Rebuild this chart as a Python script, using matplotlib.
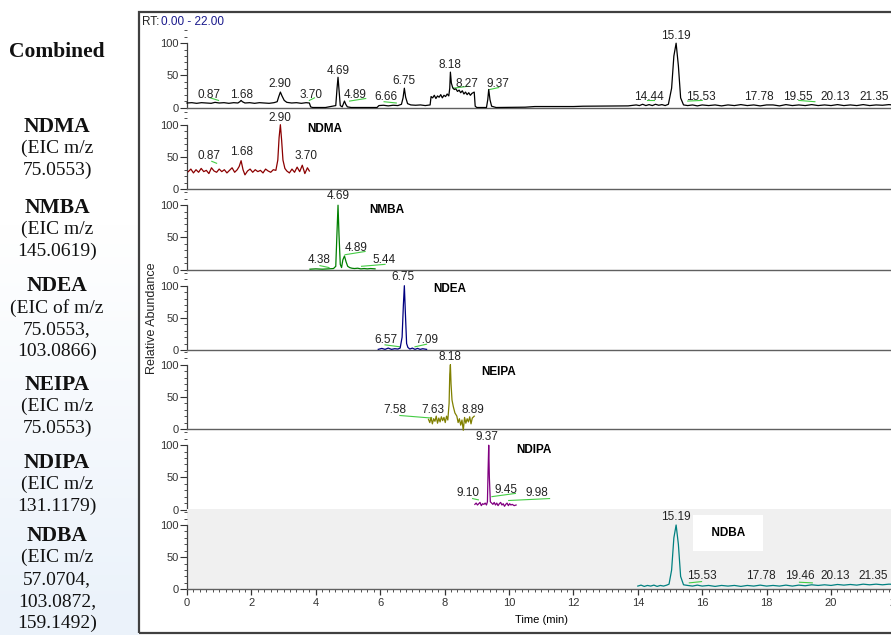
import numpy as np
import matplotlib
matplotlib.use("Agg")
import matplotlib.pyplot as plt
from matplotlib.patches import Rectangle
from matplotlib.ticker import MultipleLocator

plt.rcParams['font.family'] = ['Liberation Sans', 'DejaVu Sans']

# ---------------- DATA ----------------
panel_names = ["Combined", "NDMA", "NMBA", "NDEA", "NEIPA", "NDIPA", "NDBA"]
panel_desc = [
    [],
    ["(EIC m/z", "75.0553)"],
    ["(EIC m/z", "145.0619)"],
    ["(EIC of m/z", "75.0553,", "103.0866)"],
    ["(EIC m/z", "75.0553)"],
    ["(EIC m/z", "131.1179)"],
    ["(EIC m/z", "57.0704,", "103.0872,", "159.1492)"],
]

comb_t = [0.00, 0.15, 0.30, 0.45, 0.60, 0.75, 0.87, 1.00, 1.15, 1.30, 1.45, 1.58, 1.64, 1.68, 1.72, 1.80,
          1.95, 2.10, 2.25, 2.40, 2.55, 2.70, 2.80, 2.85, 2.90, 2.95, 3.02, 3.10, 3.25, 3.40, 3.55, 3.70,
          3.80, 3.84, 3.90, 4.30, 4.62, 4.66, 4.69, 4.72, 4.76, 4.82, 4.86, 4.89, 4.93, 4.98, 5.10, 5.90,
          5.96, 6.10, 6.25, 6.40, 6.55, 6.66, 6.71, 6.75, 6.79, 6.85, 6.95, 7.10, 7.25, 7.40, 7.55, 7.58,
          7.63, 7.68, 7.73, 7.78, 7.83, 7.88, 7.93, 7.98, 8.03, 8.08, 8.13, 8.16, 8.18, 8.21, 8.25, 8.30,
          8.35, 8.40, 8.45, 8.50, 8.55, 8.60, 8.65, 8.70, 8.75, 8.80, 8.85, 8.92, 8.95, 9.00, 9.30, 9.34,
          9.37, 9.41, 9.46, 9.60, 10.50, 10.80, 12.00, 12.30, 13.70, 13.95, 14.05, 14.15, 14.25, 14.35,
          14.45, 14.55, 14.65, 14.75, 14.85, 14.95, 15.05, 15.12, 15.19, 15.26, 15.33, 15.42, 15.55,
          15.70, 15.85, 16.00, 16.20, 16.40, 16.60, 16.80, 17.00, 17.20, 17.40, 17.60, 17.80, 18.00,
          18.20, 18.40, 18.60, 18.80, 19.00, 19.20, 19.40, 19.60, 19.80, 20.00, 20.20, 20.40, 20.60,
          20.80, 21.00, 21.20, 21.40, 21.60, 21.80, 22.00]
comb_v = [7, 7.5, 6.5, 7.5, 7, 6.5, 8, 7, 7.5, 6.5, 7.5, 7, 9, 11, 9, 7,
          7.5, 6.5, 7.5, 7, 6.5, 7.5, 9, 17, 24, 18, 11, 8, 7, 7.5, 6.5, 7.5,
          7, 1, 0, 0, 3, 30, 47, 28, 3, 1, 6, 10, 5, 1, 0, 0,
          3, 3.5, 2.5, 3.5, 3, 5, 15, 30, 16, 6, 4, 3.5, 4, 3, 4, 17,
          15, 19, 14, 18, 16, 20, 15, 19, 17, 21, 18, 30, 55, 38, 31, 28,
          29, 25, 27, 23, 26, 21, 24, 20, 23, 19, 22, 24, 2, 0, 0, 12,
          28, 12, 2, 0, 0.5, 1.5, 1.5, 2, 2.5, 4, 3, 5, 3, 4.5,
          3, 5, 3.5, 4.5, 3, 5, 30, 80, 100, 65, 15, 4, 3,
          4, 2.5, 4, 3, 4, 2.5, 4, 3, 4.5, 3, 4, 2.5, 4,
          4, 2.5, 4.5, 3, 4, 3, 4.5, 3, 4, 3, 4.5, 3, 4,
          3, 4.5, 3, 4, 3.5, 4.5, 3.5]

ndma_t = [0.04, 0.12, 0.20, 0.28, 0.36, 0.44, 0.52, 0.60, 0.68, 0.76, 0.84, 0.92, 1.00, 1.08, 1.16, 1.24,
          1.32, 1.40, 1.48, 1.56, 1.62, 1.68, 1.74, 1.80, 1.88, 1.96, 2.04, 2.12, 2.20, 2.28, 2.36, 2.44,
          2.52, 2.60, 2.68, 2.76, 2.82, 2.86, 2.90, 2.94, 2.98, 3.04, 3.10, 3.18, 3.26, 3.34, 3.42, 3.50,
          3.58, 3.66, 3.74, 3.80]
ndma_v = [27, 31, 25, 30, 26, 32, 27, 29, 24, 33, 28, 26, 31, 27, 30, 25,
          29, 33, 26, 30, 35, 44, 30, 22, 28, 31, 26, 30, 27, 29, 25, 31,
          28, 26, 30, 29, 45, 80, 100, 75, 45, 32, 28, 25, 31, 26, 34, 27,
          37, 24, 33, 28]

nmba_t = [3.82, 4.00, 4.20, 4.40, 4.55, 4.62, 4.66, 4.69, 4.72, 4.76, 4.80, 4.84, 4.89, 4.94, 4.99,
          5.05, 5.12, 5.20, 5.30, 5.40, 5.50, 5.60, 5.70, 5.84]
nmba_v = [0.5, 1, 0.5, 1, 1.5, 5, 60, 100, 55, 8, 3, 15, 21, 12, 5,
          3, 2, 1.5, 2, 1, 1.5, 1, 1.5, 1]

ndea_t = [5.94, 6.05, 6.15, 6.25, 6.35, 6.45, 6.55, 6.62, 6.68, 6.72, 6.75, 6.78, 6.82, 6.86, 6.92,
          7.00, 7.08, 7.16, 7.24, 7.32, 7.44]
ndea_v = [1, 2.5, 1, 3, 1, 2, 1.5, 3, 20, 70, 100, 60, 10, 4, 1.5,
          3, 1, 2.5, 1, 2, 1]

neipa_t = [7.50, 7.54, 7.58, 7.62, 7.66, 7.70, 7.74, 7.78, 7.82, 7.86, 7.90, 7.94, 7.98, 8.02, 8.06,
           8.10, 8.14, 8.16, 8.18, 8.20, 8.23, 8.27, 8.32, 8.38, 8.42, 8.46, 8.50, 8.54, 8.58, 8.62,
           8.66, 8.70, 8.74, 8.78, 8.82, 8.86, 8.92]
neipa_v = [15, 10, 18, 8, 16, 12, 20, 9, 17, 11, 19, 13, 18, 10, 20,
           14, 40, 85, 100, 70, 45, 35, 25, 20, 10, 16, 6, 14, -2, 18,
           9, 16, 11, 19, 8, 17, 20]

ndipa_t = [8.94, 8.98, 9.02, 9.06, 9.10, 9.14, 9.18, 9.22, 9.26, 9.30, 9.33, 9.35, 9.37, 9.39, 9.42,
           9.46, 9.50, 9.54, 9.58, 9.62, 9.66, 9.70, 9.74, 9.78, 9.82, 9.86, 9.90, 9.94, 9.98, 10.02,
           10.06, 10.10, 10.16, 10.22]
ndipa_v = [8, 10, 7, 9, 11, 6, 9, 8, 10, 7, 12, 60, 100, 50, 12,
           10, 8, 11, 7, 10, 6, 9, 11, 7, 9, 5, 8, 10, 6, 9,
           7, 8, 6, 7]

ndba_t = [14.00, 14.10, 14.20, 14.30, 14.40, 14.50, 14.60, 14.70, 14.80, 14.90, 14.97, 15.05, 15.12,
          15.19, 15.26, 15.33, 15.42, 15.55, 15.70, 15.85, 16.00, 16.20, 16.40, 16.60, 16.80, 17.00,
          17.20, 17.40, 17.60, 17.80, 18.00, 18.20, 18.40, 18.60, 18.80, 19.00, 19.20, 19.40, 19.60,
          19.80, 20.00, 20.20, 20.40, 20.60, 20.80, 21.00, 21.20, 21.40, 21.60, 21.80, 22.00]
ndba_v = [5, 6.5, 4.5, 6, 5, 6.5, 4.5, 6, 5, 6.5, 8, 30, 80,
          100, 70, 20, 7, 6, 5, 6.5, 5, 6, 4.5, 6, 5, 6,
          4.5, 6, 5, 6.5, 5, 6, 5, 6.5, 5, 6.5, 5.5, 7, 6,
          7, 6, 7.5, 6.5, 7.5, 6.5, 8, 7, 8, 7, 8, 7.5]

traces_t = [comb_t, ndma_t, nmba_t, ndea_t, neipa_t, ndipa_t, ndba_t]
traces_v = [comb_v, ndma_v, nmba_v, ndea_v, neipa_v, ndipa_v, ndba_v]

# peak labels: text, rt position, abundance position
lbl_text = [
    ["0.87", "1.68", "2.90", "3.70", "4.69", "4.89", "6.66", "6.75", "8.18", "8.27", "9.37",
     "14.44", "15.19", "15.53", "17.78", "19.55", "20.13", "21.35"],
    ["0.87", "1.68", "2.90", "3.70"],
    ["4.38", "4.69", "4.89", "5.44"],
    ["6.57", "6.75", "7.09"],
    ["7.58", "7.63", "8.18", "8.89"],
    ["9.10", "9.37", "9.45", "9.98"],
    ["15.19", "15.53", "17.78", "19.46", "20.13", "21.35"],
]
lbl_t = [
    [0.68, 1.68, 2.89, 3.85, 4.69, 5.22, 6.18, 6.74, 8.17, 8.70, 9.66,
     14.35, 15.19, 15.96, 17.76, 18.98, 20.12, 21.34],
    [0.68, 1.70, 2.89, 3.69],
    [4.10, 4.69, 5.24, 6.13],
    [6.17, 6.72, 7.44],
    [6.44, 7.63, 8.18, 8.87],
    [8.72, 9.32, 9.92, 10.86],
    [15.19, 15.98, 17.81, 19.02, 20.12, 21.30],
]
lbl_v = [
    [19, 20, 36, 20, 56, 19, 16, 41, 66, 37, 37, 17, 111, 17, 17, 17, 17, 17],
    [51, 57, 111, 51],
    [15, 114, 33, 15],
    [16, 113, 16],
    [29, 29, 112, 30],
    [26, 113, 30, 25],
    [112, 21, 21, 21, 21, 21],
]

# integration baseline markers (t0, v0, t1, v1)
marks = [
    [(0.72, 15, 0.98, 11), (3.80, 11, 3.96, 15), (5.05, 10, 5.55, 14), (6.12, 9, 6.50, 7),
     (8.26, 30, 8.73, 33), (9.40, 28, 9.68, 31), (14.30, 11, 14.50, 11), (15.55, 10, 16.00, 11),
     (19.00, 11, 19.50, 9)],
    [(0.77, 43, 0.92, 40)],
    [(4.13, 6, 4.41, 3), (4.91, 23, 5.53, 28), (5.42, 5, 6.15, 8)],
    [(6.15, 8, 6.61, 5), (7.08, 5, 7.44, 9)],
    [(6.61, 21, 7.60, 17)],
    [(8.87, 17, 9.05, 15), (9.47, 20, 10.20, 25), (9.99, 14, 11.26, 17)],
    [(15.60, 10, 15.98, 12), (19.02, 11, 19.42, 10)],
]

name_t = [None, 4.29, 6.22, 8.17, 9.67, 10.78, 16.80]
name_v = [None, 93, 92, 95, 89, 93, 88]

colors = ["#000000", "#8b0000", "#008000", "#000080", "#808000", "#800080", "#008080"]

# ---------------- LAYOUT ----------------
W, H = 891, 635
fig = plt.figure(figsize=(W / 100, H / 100), dpi=100)
fig.patch.set_facecolor("white")

# faint background tint in left column
bg = fig.add_axes([0, 0, 139 / W, 1], zorder=-5)
grad = np.linspace(0, 1, 200)[:, None] * np.ones((1, 10))
rgba = np.zeros((200, 10, 4))
rgba[..., 0] = 0.86
rgba[..., 1] = 0.91
rgba[..., 2] = 0.97
rgba[..., 3] = np.clip((grad - 0.35) * 0.9, 0, 0.55)
bg.imshow(rgba, aspect="auto", extent=[0, 1, 1, 0], origin="upper")
bg.axis("off")

x0_px = 187.0
ppm = 32.2
zero_px = [107.5, 189, 269.5, 350, 429, 509.5, 589.3]
ppu = 0.643
panel_h = 80.0
ytop = panel_h / ppu

axes = []
for i in range(7):
    zb = zero_px[i]
    ax = fig.add_axes([x0_px / W, 1 - zb / H, 22 * ppm / W, panel_h / H])
    ax.set_xlim(0, 22)
    ax.set_ylim(0, ytop)
    if i == 6:
        ax.set_facecolor("#f0f0f0")
    else:
        ax.patch.set_alpha(0)
    for s in ["top", "right"]:
        ax.spines[s].set_visible(False)
    ax.spines["left"].set_bounds(0, 100)
    ax.spines["left"].set_color("#404040")
    ax.spines["bottom"].set_color("#606060")
    ax.spines["left"].set_linewidth(0.9)
    ax.spines["bottom"].set_linewidth(1.0)
    ax.set_yticks([0, 50, 100])
    ax.yaxis.set_minor_locator(MultipleLocator(10))
    ax.tick_params(axis="y", which="major", length=5, width=0.8, labelsize=8, pad=1, colors="#333333")
    ax.tick_params(axis="y", which="minor", length=2.5, width=0.6, colors="#333333")
    if i < 6:
        ax.set_xticks([])
        ax.tick_params(axis="x", which="both", length=0)
    else:
        ax.set_xticks(np.arange(0, 23, 2))
        ax.xaxis.set_minor_locator(MultipleLocator(0.2))
        ax.tick_params(axis="x", which="major", length=4.5, width=0.9, labelsize=8, pad=2, colors="#333333")
        ax.tick_params(axis="x", which="minor", length=2.5, width=0.6, colors="#333333")
        ax.set_xlabel("Time (min)", fontsize=8, labelpad=5)

    ax.plot(traces_t[i], traces_v[i], color=colors[i], lw=0.9, clip_on=False, zorder=3)

    for (a, b, c, d) in marks[i]:
        ax.plot([a, c], [b, d], color="#44cc44", lw=0.8, clip_on=False, zorder=2)

    for txt, t, v in zip(lbl_text[i], lbl_t[i], lbl_v[i]):
        ax.text(t, v, txt, fontsize=8.5, ha="center", va="center", color="#222222",
                clip_on=False, zorder=4)

    if name_t[i] is not None:
        if i == 6:
            ax.text(name_t[i], name_v[i], "  " + panel_names[i] + "  ", fontsize=8.5,
                    fontweight="bold", ha="center", va="center", zorder=4,
                    bbox=dict(boxstyle="square,pad=1.0", fc="white", ec="none"))
        else:
            ax.text(name_t[i], name_v[i], panel_names[i], fontsize=8.5, fontweight="bold",
                    ha="center", va="center", zorder=4)
    axes.append(ax)

# frame
fig.patches.append(Rectangle((139 / W, 1 - 633 / H), (W + 10 - 139) / W, (633 - 12) / H,
                             transform=fig.transFigure, fill=False, ec="#404040", lw=1.6,
                             clip_on=False))

# RT header
fig.text(142 / W, 1 - 22 / H, "RT:", fontsize=8.5, ha="left", va="center", color="#222222")
fig.text(161 / W, 1 - 22 / H, "0.00 - 22.00", fontsize=8.5, ha="left", va="center", color="#1a1a8c")

# y label
fig.text(152 / W, 1 - 318 / H, "Relative Abundance", fontsize=9, rotation=90,
         ha="center", va="center", color="#222222")

# left column captions
serif = ["Liberation Serif", "DejaVu Serif"]
name_y = [52, 127, 208, 286, 385, 463, 536]
line_gap = 21.8
for i, nm in enumerate(panel_names):
    y = name_y[i]
    fig.text(57 / W, 1 - y / H, nm, fontsize=15.5, fontweight="bold", family=serif,
             ha="center", va="center", color="#111111")
    for k, ln in enumerate(panel_desc[i]):
        fig.text(57 / W, 1 - (y + line_gap * (k + 1)) / H, ln, fontsize=14, family=serif,
                 ha="center", va="center", color="#111111")

fig.savefig("out.png", dpi=100)
